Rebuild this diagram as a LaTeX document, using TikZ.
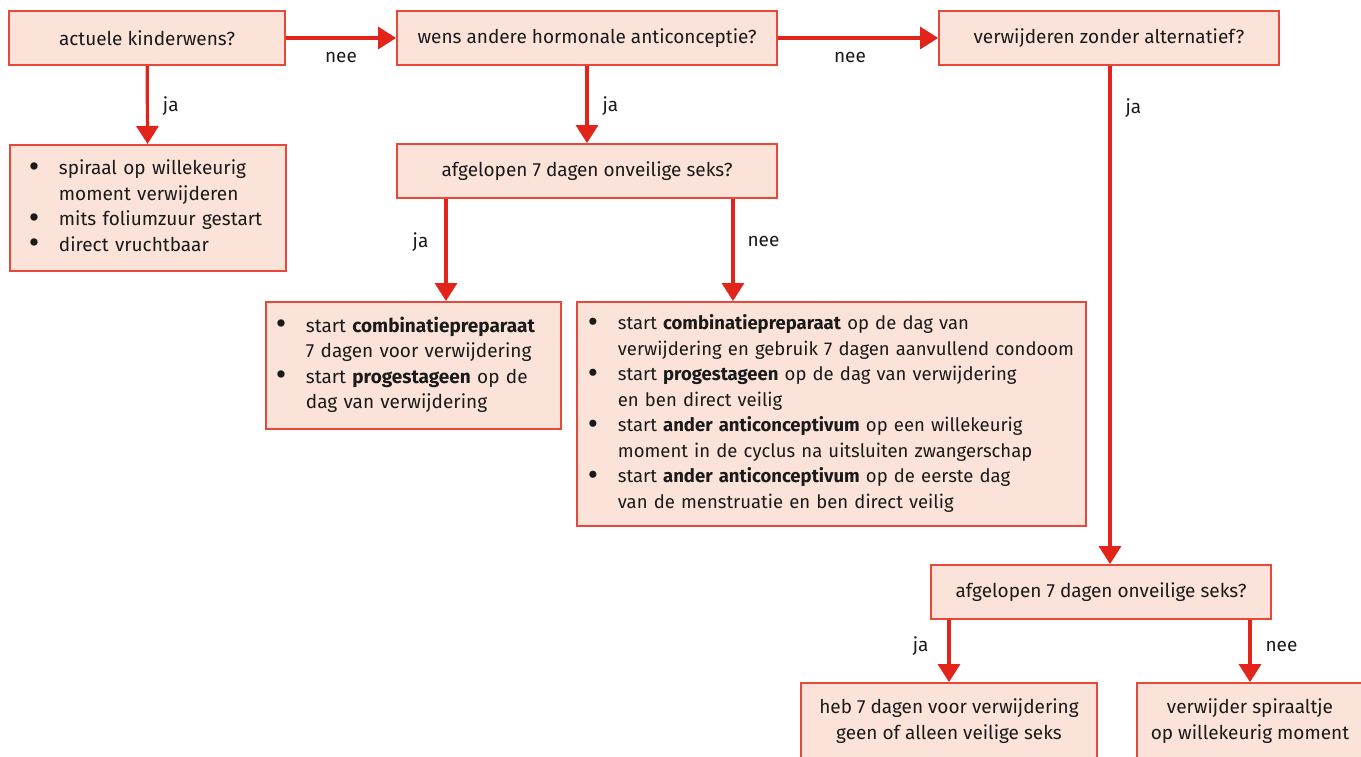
\documentclass[tikz,border=0pt]{standalone}
\usepackage{fontspec}
\usepackage{graphicx}
\setmainfont{Fira Sans}
\usetikzlibrary{arrows.meta,calc}
\definecolor{boxfill}{HTML}{FCE3D9}
\definecolor{boxline}{HTML}{E9473A}
\definecolor{arrred}{HTML}{E3241B}
\definecolor{txt}{HTML}{1A1A1A}
\newcommand\fsz{\fontsize{19}{25.5}\selectfont}
\newcommand\fszs{\fontsize{18.5}{25.5}\selectfont}
\newcommand\bul{\makebox[30pt][l]{\smash{\raisebox{-2.5pt}{\scalebox{1.7}{\textbullet}}}}}
\begin{document}
\begin{tikzpicture}[x=1pt,y=-1pt,
  box/.style={draw=boxline, fill=boxfill, line width=1.8pt, text=txt, inner sep=0pt, font=\fsz},
  qbox/.style={box, minimum height=54pt, align=center},
  lbox/.style={box, anchor=north west, align=left},
  arr/.style={draw=arrred, line width=3.2pt, -{Triangle[width=22pt,length=18pt]}},
  lab/.style={text=txt, font=\fsz, inner sep=2pt}]
\useasboundingbox (0,0) rectangle (1361,756);

\node[qbox, minimum width=276pt] (q1) at (147,38) {actuele kinderwens?};
\node[qbox, minimum width=380pt] (q2) at (587,38) {wens andere hormonale anticonceptie?};
\node[qbox, minimum width=340pt] (q3) at (1109,38) {verwijderen zonder alternatief?};
\node[qbox, minimum width=380pt] (q4) at (587,171) {afgelopen 7 dagen onveilige seks?};
\node[qbox, minimum width=340pt] (q5) at (1101,592) {afgelopen 7 dagen onveilige seks?};

\node[lbox, text width=238pt, inner xsep=19pt, minimum height=126pt] (b1) at (9,144) {%
\begin{tabular}{@{}l@{}l@{}}
\bul & spiraal op willekeurig\\
 & moment verwijderen\\
\bul & mits foliumzuur gestart\\
\bul & direct vruchtbaar
\end{tabular}};

\node[lbox, text width=275pt, inner xsep=10pt, minimum height=127pt] (b2) at (265,301) {%
\begin{tabular}{@{}l@{}l@{}}
\bul & start \textbf{combinatiepreparaat}\\
 & 7 dagen voor verwijdering\\
\bul & start \textbf{progestageen} op de\\
 & dag van verwijdering
\end{tabular}};

\node[lbox, text width=487pt, inner xsep=11pt, minimum height=224pt, font=\fszs] (b3) at (576,301) {%
\begin{tabular}{@{}l@{}l@{}}
\bul & start \textbf{combinatiepreparaat} op de dag van\\
 & verwijdering en gebruik 7 dagen aanvullend condoom\\
\bul & start \textbf{progestageen} op de dag van verwijdering\\
 & en ben direct veilig\\
\bul & start \textbf{ander anticonceptivum} op een willekeurig\\
 & moment in de cyclus na uitsluiten zwangerschap\\
\bul & start \textbf{ander anticonceptivum} op de eerste dag\\
 & van de menstruatie en ben direct veilig
\end{tabular}};

\node[box, minimum width=296pt, minimum height=76pt, align=center] (r1) at (949,721) {heb 7 dagen voor verwijdering\\geen of alleen veilige seks};
\node[box, minimum width=226pt, minimum height=76pt, align=center] (r2) at (1250,721) {verwijder spiraaltje\\op willekeurig moment};

\coordinate (a1) at (446,0);
\coordinate (a2) at (733,0);
\coordinate (a3) at (1110,0);

\draw[arr] (q1) -- node[lab, pos=0.5, yshift=-19pt] {nee} (q2);
\draw[arr] (q2) -- node[lab, pos=0.45, yshift=-19pt] {nee} (q3);
\draw[arr] (q1) -- node[lab, pos=0.52, right=12pt] {ja} (b1);
\draw[arr] (q2) -- node[lab, pos=0.52, right=12pt] {ja} (q4);
\draw[arr] (q3.south -| a3) -- node[lab, pos=0.085, right=12pt] {ja} (q5.north -| a3);
\draw[arr] (q4.south -| a1) -- node[lab, pos=0.42, left=14pt] {ja} (b2.north -| a1);
\draw[arr] (q4.south -| a2) -- node[lab, pos=0.42, right=11pt] {nee} (b3.north -| a2);
\draw[arr] (q5.south -| r1.north) -- node[lab, pos=0.42, left=17pt] {ja} (r1.north);
\draw[arr] (q5.south -| r2.north) -- node[lab, pos=0.42, right=12pt] {nee} (r2.north);
\end{tikzpicture}
\end{document}
